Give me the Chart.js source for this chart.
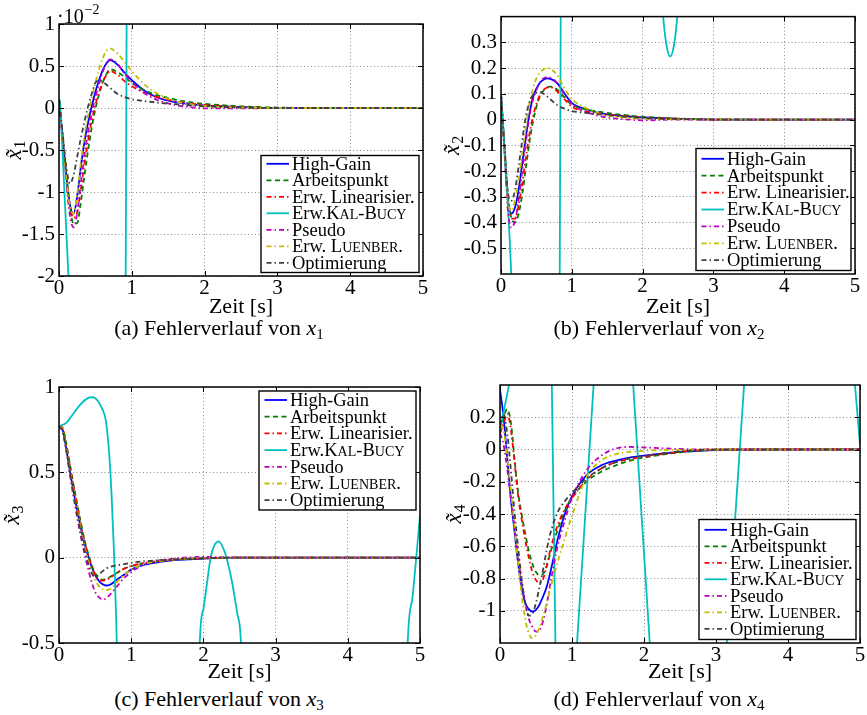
<!DOCTYPE html>
<html>
<head>
<meta charset="utf-8">
<script src="https://cdn.jsdelivr.net/npm/chart.js@4.4.1/dist/chart.umd.min.js"></script>
<style>
  body { margin: 0; background: #fff; }
  #fig { position: relative; width: 867px; height: 715px; overflow: hidden; background: #fff;
         font-family: "Liberation Serif", "Times New Roman", serif; }
  #fig canvas { position: absolute; }
  .cap { position: absolute; width: 440px; text-align: center; font-size: 22px; line-height: 22px;
         color: #000; white-space: nowrap; }
  .cap i { font-style: italic; }
  .cap sub { font-size: 15px; vertical-align: -4px; line-height: 0; }
</style>
</head>
<body>
<div id="fig">
  <canvas id="pa" width="440" height="320" style="left:0;top:0"></canvas>
  <canvas id="pb" width="432" height="320" style="left:435px;top:0"></canvas>
  <canvas id="pc" width="440" height="345" style="left:0;top:340px"></canvas>
  <canvas id="pd" width="432" height="345" style="left:435px;top:340px"></canvas>
  <div class="cap" style="left:-1px;top:317px">(a) Fehlerverlauf von <i>x</i><sub>1</sub></div>
  <div class="cap" style="left:439px;top:317px">(b) Fehlerverlauf von <i>x</i><sub>2</sub></div>
  <div class="cap" style="left:-1px;top:688px">(c) Fehlerverlauf von <i>x</i><sub>3</sub></div>
  <div class="cap" style="left:439px;top:688px">(d) Fehlerverlauf von <i>x</i><sub>4</sub></div>
</div>
<script>
// Sample times [s] shared by the six converging observers
const TIME = [0, 0.05, 0.1, 0.15, 0.2, 0.25, 0.3, 0.35, 0.4, 0.45, 0.5, 0.55, 0.6, 0.65, 0.7,
              0.8, 0.9, 1.0, 1.2, 1.4, 1.6, 1.8, 2.0, 2.5, 3, 4, 5];

// Estimation error of x1 (in units of 1e-2)
const X1_HIGH_GAIN    = [0.1, -0.35, -0.8, -1.15, -1.26, -1.05, -0.7, -0.4, -0.17, 0.02, 0.19, 0.33, 0.45, 0.53, 0.57, 0.52, 0.42, 0.33, 0.19, 0.11, 0.07, 0.045, 0.03, 0.01, 0, 0, 0];
const X1_ARBEITSPUNKT = [0.1, -0.33, -0.8, -1.18, -1.38, -1.37, -1.12, -0.8, -0.5, -0.23, -0.01, 0.16, 0.3, 0.4, 0.46, 0.43, 0.37, 0.3, 0.2, 0.14, 0.1, 0.07, 0.05, 0.02, 0.005, 0, 0];
const X1_ERW_LIN      = [0.1, -0.33, -0.8, -1.17, -1.31, -1.24, -0.97, -0.66, -0.38, -0.15, 0.04, 0.19, 0.31, 0.39, 0.44, 0.4, 0.32, 0.26, 0.17, 0.12, 0.08, 0.055, 0.035, 0.01, 0, 0, 0];
const X1_PSEUDO       = [0.1, -0.37, -0.88, -1.28, -1.42, -1.25, -0.9, -0.56, -0.28, -0.06, 0.13, 0.29, 0.43, 0.53, 0.58, 0.53, 0.41, 0.31, 0.16, 0.08, 0.035, 0.01, -0.005, -0.005, 0, 0, 0];
const X1_LUENBERGER   = [0.1, -0.34, -0.82, -1.16, -1.26, -1.02, -0.65, -0.33, -0.08, 0.12, 0.3, 0.46, 0.59, 0.68, 0.71, 0.65, 0.55, 0.44, 0.26, 0.15, 0.08, 0.045, 0.025, 0.005, 0, 0, 0];
const X1_OPTIMIERUNG  = [0.1, -0.3, -0.7, -0.9, -0.8, -0.58, -0.36, -0.16, 0.02, 0.17, 0.3, 0.33, 0.31, 0.28, 0.24, 0.17, 0.13, 0.105, 0.08, 0.06, 0.045, 0.03, 0.02, 0.005, 0, 0, 0];
const X1_KB_TIME      = [0, 0.015, 0.13, 0.2, 0.9, 0.915, 0.93, 1.0, 5];
const X1_KB           = [0.1, 0.08, -2.0, -3.5, -3.5, -2.3, 1.3, 4, 4];

// Estimation error of x2
const X2_HIGH_GAIN    = [0.1, -0.12, -0.32, -0.365, -0.34, -0.27, -0.17, -0.07, 0.02, 0.085, 0.12, 0.143, 0.155, 0.16, 0.158, 0.14, 0.1, 0.065, 0.04, 0.025, 0.017, 0.012, 0.008, 0.003, 0, 0, 0];
const X2_ARBEITSPUNKT = [0.1, -0.1, -0.3, -0.385, -0.4, -0.365, -0.29, -0.19, -0.09, -0.01, 0.05, 0.09, 0.113, 0.125, 0.128, 0.115, 0.085, 0.058, 0.04, 0.03, 0.022, 0.016, 0.011, 0.004, 0.001, 0, 0];
const X2_ERW_LIN      = [0.1, -0.11, -0.31, -0.385, -0.385, -0.33, -0.25, -0.15, -0.06, 0.01, 0.06, 0.095, 0.115, 0.124, 0.125, 0.108, 0.078, 0.05, 0.032, 0.024, 0.017, 0.012, 0.008, 0.003, 0, 0, 0];
const X2_PSEUDO       = [0.1, -0.13, -0.36, -0.42, -0.39, -0.31, -0.2, -0.09, 0.01, 0.075, 0.115, 0.145, 0.16, 0.165, 0.162, 0.14, 0.095, 0.06, 0.03, 0.013, 0.005, 0, -0.003, 0, 0, 0, 0];
const X2_LUENBERGER   = [0.1, -0.12, -0.32, -0.355, -0.31, -0.23, -0.13, -0.03, 0.06, 0.12, 0.16, 0.183, 0.195, 0.2, 0.197, 0.17, 0.12, 0.08, 0.045, 0.022, 0.012, 0.006, 0.003, 0.001, 0, 0, 0];
const X2_OPTIMIERUNG  = [0.1, -0.11, -0.29, -0.315, -0.27, -0.18, -0.08, 0.01, 0.065, 0.095, 0.105, 0.107, 0.1, 0.09, 0.078, 0.055, 0.042, 0.033, 0.026, 0.02, 0.015, 0.01, 0.006, 0.002, 0, 0, 0];
const X2_KB_TIME      = [0, 0.145, 0.25, 0.82, 0.828, 0.845, 0.9, 2.1, 2.2, 2.25, 2.29, 2.34, 2.39, 2.44, 2.49, 2.54, 2.6, 2.7, 5];
const X2_KB           = [0.1, -0.6, -1.5, -1.5, -0.7, 0.5, 1.5, 1.5, 0.8, 0.55, 0.4, 0.284, 0.245, 0.284, 0.4, 0.594, 0.9, 1.5, 1.5];

// Estimation error of x3
const X3_HIGH_GAIN    = [0.77, 0.75, 0.64, 0.51, 0.39, 0.28, 0.18, 0.09, 0.015, -0.05, -0.1, -0.135, -0.155, -0.163, -0.16, -0.13, -0.1, -0.07, -0.04, -0.025, -0.015, -0.01, -0.005, 0, 0, 0, 0];
const X3_ARBEITSPUNKT = [0.77, 0.76, 0.67, 0.55, 0.43, 0.32, 0.21, 0.11, 0.03, -0.04, -0.09, -0.12, -0.13, -0.125, -0.115, -0.09, -0.065, -0.05, -0.03, -0.02, -0.012, -0.007, -0.004, 0, 0, 0, 0];
const X3_ERW_LIN      = [0.77, 0.76, 0.66, 0.54, 0.42, 0.31, 0.2, 0.1, 0.02, -0.05, -0.1, -0.13, -0.135, -0.13, -0.12, -0.09, -0.065, -0.048, -0.03, -0.02, -0.012, -0.007, -0.004, 0, 0, 0, 0];
const X3_PSEUDO       = [0.77, 0.74, 0.63, 0.49, 0.36, 0.24, 0.13, 0.03, -0.06, -0.14, -0.2, -0.23, -0.245, -0.24, -0.22, -0.17, -0.12, -0.085, -0.035, -0.015, -0.005, 0.002, 0.004, 0.001, 0, 0, 0];
const X3_LUENBERGER   = [0.77, 0.75, 0.64, 0.51, 0.39, 0.28, 0.17, 0.07, -0.01, -0.08, -0.13, -0.165, -0.185, -0.19, -0.185, -0.145, -0.1, -0.07, -0.035, -0.02, -0.01, -0.005, -0.002, 0, 0, 0, 0];
const X3_OPTIMIERUNG  = [0.77, 0.74, 0.63, 0.5, 0.38, 0.26, 0.15, 0.05, -0.03, -0.09, -0.11, -0.1, -0.08, -0.065, -0.055, -0.045, -0.038, -0.03, -0.02, -0.015, -0.01, -0.006, -0.003, 0, 0, 0, 0];
const X3_KB_TIME      = [0, 0.1, 0.2, 0.3, 0.4, 0.45, 0.5, 0.55, 0.6, 0.65, 0.7, 0.73, 0.76, 0.78, 0.8, 0.85, 1.9, 1.95, 2.0, 2.05, 2.1, 2.15, 2.21, 2.27, 2.32, 2.4, 2.47, 2.52, 2.6, 4.75, 4.83, 4.9, 4.95, 5];
const X3_KB           = [0.77, 0.79, 0.845, 0.9, 0.935, 0.94, 0.935, 0.91, 0.87, 0.8, 0.58, 0.35, 0.05, -0.2, -0.5, -2, -2, -0.5, -0.3, -0.15, 0, 0.07, 0.095, 0.06, 0, -0.15, -0.33, -0.5, -2, -2, -0.5, -0.22, 0.01, 0.25];

// Estimation error of x4
const X4_HIGH_GAIN    = [0.37, 0.2, -0.05, -0.3, -0.5, -0.7, -0.85, -0.95, -0.99, -1.005, -0.995, -0.96, -0.91, -0.85, -0.76, -0.56, -0.4, -0.29, -0.16, -0.1, -0.07, -0.05, -0.038, -0.015, -0.003, 0, 0];
const X4_ARBEITSPUNKT = [0.12, 0.2, 0.25, 0.17, -0.05, -0.26, -0.4, -0.52, -0.63, -0.71, -0.76, -0.78, -0.77, -0.72, -0.64, -0.5, -0.38, -0.3, -0.2, -0.14, -0.1, -0.07, -0.05, -0.018, -0.003, 0, 0];
const X4_ERW_LIN      = [0.1, 0.16, 0.22, 0.13, -0.07, -0.28, -0.43, -0.56, -0.67, -0.76, -0.81, -0.83, -0.8, -0.72, -0.62, -0.47, -0.37, -0.3, -0.19, -0.12, -0.08, -0.06, -0.045, -0.015, 0, 0, 0];
const X4_PSEUDO       = [0.1, 0.03, -0.12, -0.3, -0.48, -0.66, -0.82, -0.95, -1.05, -1.1, -1.13, -1.12, -1.06, -0.96, -0.83, -0.6, -0.44, -0.3, -0.13, -0.04, 0.005, 0.016, 0.013, 0.003, 0, 0, 0];
const X4_LUENBERGER   = [0.15, 0.12, -0.05, -0.25, -0.47, -0.7, -0.9, -1.05, -1.14, -1.17, -1.15, -1.1, -1.03, -0.95, -0.86, -0.7, -0.55, -0.41, -0.17, -0.07, -0.03, -0.015, -0.008, -0.002, 0, 0, 0];
const X4_OPTIMIERUNG  = [0.15, 0.22, 0.1, -0.12, -0.38, -0.6, -0.8, -0.95, -1.03, -1.02, -0.95, -0.85, -0.74, -0.62, -0.52, -0.39, -0.32, -0.27, -0.18, -0.12, -0.08, -0.055, -0.04, -0.012, 0, 0, 0];
const X4_KB_TIME      = [0, 0.125, 0.4, 0.72, 0.77, 0.9, 1.07, 1.3, 1.55, 1.85, 2.08, 2.6, 3.15, 3.39, 4.2, 4.93, 5];
const X4_KB           = [0.12, 0.4, 2.5, 0.4, -1.2, -2.5, -1.2, 0.4, 2.0, 0.4, -1.2, -4, -1.2, 0.4, 5, 0.4, 0.03];

const X_TICKS = [0, 1, 2, 3, 4, 5];
const SERIES_NAMES = ['High-Gain', 'Arbeitspunkt', 'Erw. Linearisier.', 'Erw.Kal-Bucy', 'Pseudo', 'Erw. Luenber.', 'Optimierung'];
// legend text; braces mark small-capital letters
const LEGEND_LABELS = ['High-Gain', 'Arbeitspunkt', 'Erw. Linearisier.', 'Erw.K{AL}-B{UCY}', 'Pseudo', 'Erw. L{UENBER}.', 'Optimierung'];
const SERIES_COLORS = ['#0000ff', '#008000', '#ff0000', '#00bfbf', '#bf00bf', '#bfbf00', '#404040'];
const DASH = [5, 3.5];
const DASH_DOT = [5, 3, 1.5, 3];
const SERIES_DASHES = [[], DASH, DASH_DOT, [], DASH_DOT, DASH_DOT, DASH_DOT];

const FONT = '"Liberation Serif", "Times New Roman", serif';

const PANELS = [
  { canvas: 'pa', values: [X1_HIGH_GAIN, X1_ARBEITSPUNKT, X1_ERW_LIN, null, X1_PSEUDO, X1_LUENBERGER, X1_OPTIMIERUNG],
    kbTime: X1_KB_TIME, kbValues: X1_KB, kbSmooth: false,
    yMin: -2, yMax: 1, yStep: 0.5, hideEnds: false,
    yAxisW: 59, padTop: 24, padRight: 17, xAxisH: 44, titlePad: 0,
    sub: '1', yTitleX: 15, exponent: true,
    legend: { at: 'bottom', w: 158, h: 117, first: 8.3, pitch: 16.5 } },
  { canvas: 'pb', values: [X2_HIGH_GAIN, X2_ARBEITSPUNKT, X2_ERW_LIN, null, X2_PSEUDO, X2_LUENBERGER, X2_OPTIMIERUNG],
    kbTime: X2_KB_TIME, kbValues: X2_KB, kbSmooth: true,
    yMin: -0.6, yMax: 0.4, yStep: 0.1, hideEnds: true,
    yAxisW: 66, padTop: 11, padRight: 12, xAxisH: 46, titlePad: 0,
    sub: '2', yTitleX: 18, exponent: false,
    legend: { at: 'bottom', w: 155, h: 122, first: 10.3, pitch: 16.9 } },
  { canvas: 'pc', values: [X3_HIGH_GAIN, X3_ARBEITSPUNKT, X3_ERW_LIN, null, X3_PSEUDO, X3_LUENBERGER, X3_OPTIMIERUNG],
    kbTime: X3_KB_TIME, kbValues: X3_KB, kbSmooth: true,
    yMin: -0.5, yMax: 1, yStep: 0.5, hideEnds: false,
    yAxisW: 59, padTop: 47, padRight: 20, xAxisH: 42, titlePad: 0,
    sub: '3', yTitleX: 13, exponent: false,
    legend: { at: 'top', w: 157, h: 119, first: 9, pitch: 16.7 } },
  { canvas: 'pd', values: [X4_HIGH_GAIN, X4_ARBEITSPUNKT, X4_ERW_LIN, null, X4_PSEUDO, X4_LUENBERGER, X4_OPTIMIERUNG],
    kbTime: X4_KB_TIME, kbValues: X4_KB, kbSmooth: false,
    yMin: -1.2, yMax: 0.4, yStep: 0.2, hideEnds: true,
    yAxisW: 65, padTop: 45, padRight: 7, xAxisH: 42, titlePad: 0,
    sub: '4', yTitleX: 20, exponent: false,
    legend: { at: 'bottom', w: 157, h: 120, first: 10.3, pitch: 16.5 } }
];

function fmt(v) {
  const r = Math.round(v * 100) / 100;
  return String(Object.is(r, -0) ? 0 : r);
}

// writes a legend label, letters in braces as small capitals
function drawLabel(ctx, text, x, y, size) {
  const parts = text.split(/([{}])/);
  let small = false;
  for (const p of parts) {
    if (p === '{') { small = true; continue; }
    if (p === '}') { small = false; continue; }
    if (!p) continue;
    ctx.font = (small ? size * 0.76 : size) + 'px ' + FONT;
    ctx.fillText(p, x, y);
    x += ctx.measureText(p).width;
  }
}

const decor = {
  id: 'decor',
  afterDraw(chart, args, o) {
    const { ctx, chartArea: a } = chart;
    const xs = chart.scales.x, ys = chart.scales.y;
    ctx.save();
    // inward tick marks on all four sides
    ctx.strokeStyle = '#000';
    ctx.lineWidth = 1;
    ctx.beginPath();
    xs.ticks.forEach(t => {
      const px = Math.round(xs.getPixelForValue(t.value)) + 0.5;
      ctx.moveTo(px, a.bottom); ctx.lineTo(px, a.bottom - 5);
      ctx.moveTo(px, a.top); ctx.lineTo(px, a.top + 5);
    });
    ys.ticks.forEach(t => {
      const py = Math.round(ys.getPixelForValue(t.value)) + 0.5;
      ctx.moveTo(a.left, py); ctx.lineTo(a.left + 5, py);
      ctx.moveTo(a.right, py); ctx.lineTo(a.right - 5, py);
    });
    ctx.stroke();

    // legend box
    const L = o.legend;
    const x0 = a.right - 4 - L.w;
    const y0 = L.at === 'top' ? a.top + 4 : a.bottom - 3.5 - L.h;
    ctx.fillStyle = '#fff';
    ctx.fillRect(x0, y0, L.w, L.h);
    ctx.lineWidth = 1.4;
    ctx.strokeStyle = '#000';
    ctx.strokeRect(x0, y0, L.w, L.h);
    chart.data.datasets.forEach((d, i) => {
      const y = y0 + L.first + i * L.pitch;
      ctx.strokeStyle = d.borderColor;
      ctx.lineWidth = d.borderWidth;
      ctx.setLineDash(d.borderDash);
      ctx.beginPath();
      ctx.moveTo(x0 + 5.5, y);
      ctx.lineTo(x0 + 28, y);
      ctx.stroke();
      ctx.setLineDash([]);
      ctx.fillStyle = '#000';
      ctx.textAlign = 'left';
      ctx.textBaseline = 'alphabetic';
      drawLabel(ctx, LEGEND_LABELS[i], x0 + 31, y + 5.8, 18.5);
    });

    // axes box
    ctx.strokeStyle = '#000';
    ctx.lineWidth = 1.5;
    ctx.strokeRect(a.left, a.top, a.right - a.left, a.bottom - a.top);

    // y axis label: x with tilde and index
    ctx.save();
    ctx.translate(o.yTitleX, (a.top + a.bottom) / 2);
    ctx.rotate(-Math.PI / 2);
    ctx.fillStyle = '#000';
    ctx.textBaseline = 'alphabetic';
    ctx.textAlign = 'left';
    ctx.font = 'italic 23px ' + FONT;
    const wx = ctx.measureText('x').width;
    ctx.font = '16px ' + FONT;
    const ws = ctx.measureText(o.sub).width;
    const start = -(wx + ws + 1) / 2;
    ctx.font = 'italic 23px ' + FONT;
    ctx.fillText('x\u0303', start, 6);
    ctx.font = '16px ' + FONT;
    ctx.fillText(o.sub, start + wx + 1, 10);
    ctx.restore();

    // common exponent of the x1 axis
    if (o.exponent) {
      ctx.fillStyle = '#000';
      ctx.textAlign = 'left';
      ctx.textBaseline = 'alphabetic';
      ctx.font = '20px ' + FONT;
      ctx.fillText('\u00b710', a.left - 2, a.top - 1);
      const w10 = ctx.measureText('\u00b710').width;
      ctx.font = '14px ' + FONT;
      ctx.fillText('\u22122', a.left - 2 + w10 + 1, a.top - 10);
    }
    ctx.restore();
  }
};

function buildPanel(p) {
  const datasets = SERIES_NAMES.map((name, i) => {
    const isKB = p.values[i] === null;
    const data = isKB
      ? p.kbTime.map((t, k) => ({ x: t, y: p.kbValues[k] }))
      : TIME.map((t, k) => ({ x: t, y: p.values[i][k] }));
    return {
      label: name,
      data,
      borderColor: SERIES_COLORS[i],
      borderDash: SERIES_DASHES[i],
      borderWidth: 1.8,
      pointRadius: 0,
      fill: false,
      order: SERIES_NAMES.length - i,
      cubicInterpolationMode: (isKB && !p.kbSmooth) ? 'default' : 'monotone',
      tension: 0
    };
  });

  new Chart(document.getElementById(p.canvas), {
    type: 'line',
    data: { datasets },
    plugins: [decor],
    options: {
      responsive: false,
      devicePixelRatio: 1,
      animation: false,
      events: [],
      layout: { padding: { top: p.padTop, right: p.padRight, left: 0, bottom: 0 } },
      plugins: {
        legend: { display: false },
        tooltip: { enabled: false },
        decor: { legend: p.legend, sub: p.sub, yTitleX: p.yTitleX, exponent: p.exponent }
      },
      scales: {
        x: {
          type: 'linear', min: 0, max: 5,
          afterBuildTicks: s => { s.ticks = X_TICKS.map(v => ({ value: v })); },
          afterFit: s => { s.height = p.xAxisH; },
          ticks: { color: '#000', font: { size: 21, family: FONT }, padding: 0, maxRotation: 0,
                   callback: v => fmt(v) },
          grid: { color: '#8c8c8c', lineWidth: 1, drawTicks: false },
          border: { display: false, dash: [1, 2.5] },
          title: { display: true, text: 'Zeit [s]', color: '#000', font: { size: 22, family: FONT },
                   padding: { top: 0, bottom: p.titlePad } }
        },
        y: {
          type: 'linear', min: p.yMin, max: p.yMax,
          afterFit: s => { s.width = p.yAxisW; },
          ticks: { stepSize: p.yStep, color: '#000', font: { size: 21, family: FONT }, padding: 4,
                   callback: v => {
                     if (p.hideEnds && (Math.abs(v - p.yMin) < 1e-6 || Math.abs(v - p.yMax) < 1e-6)) return null;
                     return fmt(v);
                   } },
          grid: { color: '#8c8c8c', lineWidth: 1, drawTicks: false },
          border: { display: false, dash: [1, 2.5] }
        }
      }
    }
  });
}

PANELS.forEach(buildPanel);
</script>
</body>
</html>
